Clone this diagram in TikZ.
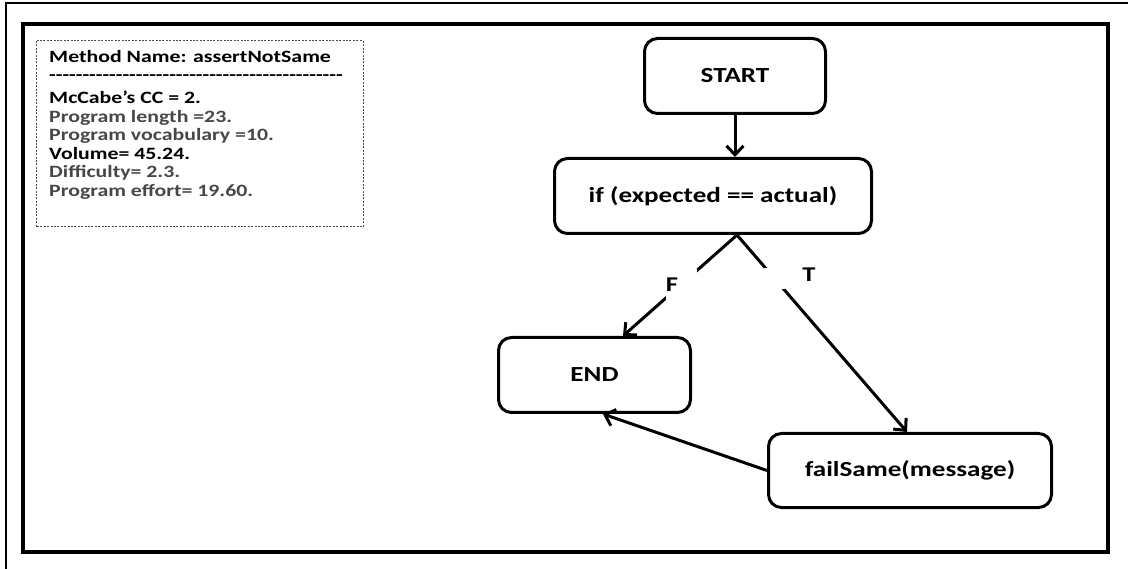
\documentclass[tikz,border=0pt]{standalone}
\usepackage{fontspec}
\setmainfont{Carlito}[FakeStretch=1.26]
\usetikzlibrary{arrows.meta}
\begin{document}
\begin{tikzpicture}[x=1pt,y=-1pt,
  flowbox/.style={draw, line width=3pt, rounded corners=13pt, font=\fontsize{21.5}{25}\selectfont\bfseries, inner sep=0pt},
  flow/.style={line width=3pt, -{Straight Barb[length=9pt,width=17pt,line width=3pt]}},
  blank/.style={fill=white, inner sep=0pt, minimum size=#1},
  branch/.style={font=\fontsize{21}{25}\selectfont\bfseries, inner sep=0pt},
  info/.style={anchor=base west, inner sep=0pt, font=\fontsize{17.3}{19}\selectfont\bfseries},
  soft/.style={info, text=black!72}]
\useasboundingbox (0,0) rectangle (1128,569);

% outer page edges and the thick frame
\draw[line width=1.6pt] (6,569) -- (6,3) -- (1128,3);
\draw[line width=3.8pt] (23,24) rectangle (1108,552);

% metrics panel
\draw[black!70, line width=1pt, dash pattern=on 2pt off 1.4pt] (36,41) rectangle (363,227);
\node[info] (mname) at (49,63) {Method Name: assertNotSame};
\node[info] (rule) at (49,81) {\foreach \i in {1,...,44}{-}};
\node[info] (cc) at (49,104) {McCabe’s CC = 2.};
\node[soft] (plen) at (49,122.5) {Program length =23.};
\node[soft] (pvoc) at (49,141) {Program vocabulary =10.};
\node[info] (vol) at (49,159.5) {Volume= 45.24.};
\node[soft] (diff) at (49,178) {Difficulty= 2.3.};
\node[soft] (eff) at (49,196.5) {Program effort= 19.60.};

% control flow graph
\node[flowbox, minimum width=181pt, minimum height=75pt] (start) at (735,76) {START};
\node[flowbox, minimum width=317pt, minimum height=75pt] (cond) at (713,196) {if (expected == actual)};
\node[flowbox, minimum width=192pt, minimum height=75pt] (end) at (594.5,375) {END};
\node[flowbox, minimum width=283pt, minimum height=74pt] (fail) at (910,470.5) {failSame(message)};

\draw[flow] (start.south) -- (start.south |- cond.north);
\draw[flow] ([xshift=24pt]cond.south) -- node[pos=0.49, blank=31pt] (fgap) {} ([xshift=28.5pt]end.north);
\draw[flow] ([xshift=24pt]cond.south) -- node[pos=0.22, blank=21pt] (tgap) {} ([xshift=-3pt]fail.north);
\draw[flow] (fail.west) -- ([xshift=8.5pt]end.south);

\node[branch] (flabel) at (672,285) {F};
\node[branch] (tlabel) at (809,275) {T};
\end{tikzpicture}
\end{document}
